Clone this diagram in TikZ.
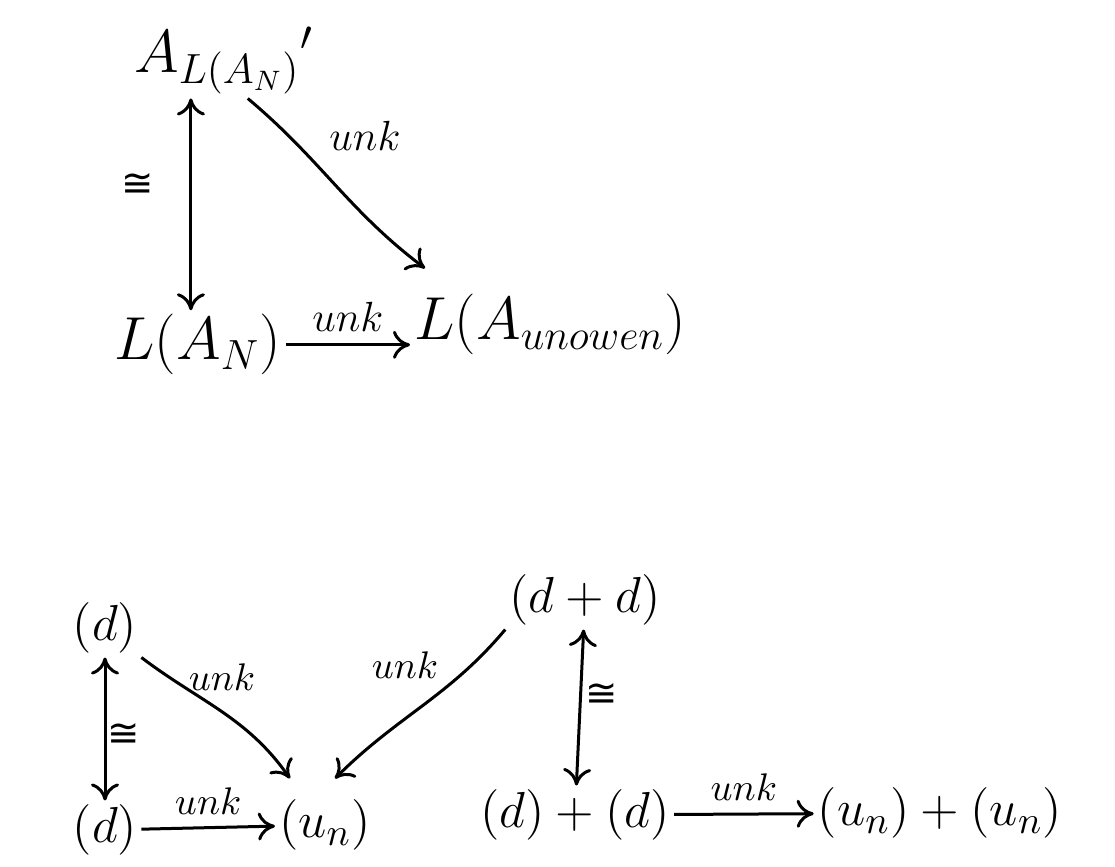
\documentclass[tikz,border=0pt]{standalone}
\usepackage{fontspec}
\newfontfamily\symfont{DejaVu Sans}
\usetikzlibrary{calc, arrows.meta}

\begin{document}
\begin{tikzpicture}[
    >={To[length=1.7mm, width=2.8mm]},
    big/.style={font=\fontsize{17}{20}\selectfont, inner sep=1pt},
    mid/.style={font=\fontsize{15}{18}\selectfont, inner sep=1pt},
    lbl/.style={font=\fontsize{13}{15}\selectfont},
    slbl/.style={font=\fontsize{11}{13}\selectfont},
    iso/.style={font=\symfont\fontsize{11}{13}\selectfont},
    arr/.style={line width=0.3mm, ->},
]
    \useasboundingbox (0,0) rectangle (11.15,8.66);

    % upper triangle
    \node[big, anchor=base west] (AL) at (1.30, 7.93)  {$A_{L(A_N)}{}'$};
    \node[big, anchor=base west] (LA) at (1.10, 5.06)  {$L(A_N)$};
    \node[big, anchor=base west] (LU) at (4.10, 5.26)  {$L(A_{unowen})$};

    \draw[arr, <->] ([xshift=-0.33cm]AL.south) -- ([xshift=-0.33cm]AL.south |- LA.north);
    \node[iso] (iso1) at (1.38, 6.81) {≅};
    \draw[arr] ([xshift=-0.7cm]AL.south east) to[out=-40, in=143] ([xshift=0.15cm, yshift=0.22cm]LU.north west);
    \node[lbl] (f1) at (3.65, 7.30) {$unk$};
    \draw[arr] (LA.east) -- (LA.east -| LU.west) node[midway, above, lbl] (f2) {$unk$};

    % lower diagrams
    \node[mid] (d1) at (1.05, 2.38)  {$(d)$};
    \node[mid] (d2) at (1.05, 0.36)  {$(d)$};
    \node[mid] (un) at (3.25, 0.41)  {$(u_n)$};
    \node[mid] (dd) at (5.85, 2.66)  {$(d+d)$};
    \node[mid] (dpd) at (5.75, 0.51) {$(d)+(d)$};
    \node[mid] (upu) at (9.40, 0.53) {$(u_n)+(u_n)$};

    \draw[arr, <->] (d1) -- (d2);
    \node[iso] (iso2) at (1.24, 1.31) {≅};
    \draw[arr] (d1.south east) to[out=-37, in=125] ([xshift=0.15cm, yshift=0.17cm]un.north west);
    \node[slbl] (f3) at (2.22, 1.89) {$unk$};
    \draw[arr] (dd.south west) to[out=-130, in=45] ([xshift=-0.4cm, yshift=0.17cm]un.north east);
    \node[slbl] (f4) at (4.05, 2.01) {$unk$};
    \draw[arr] (d2) -- (un) node[midway, above, slbl] (f5) {$unk$};

    \draw[arr, <->] (dd) -- (dpd);
    \node[iso] (iso3) at (6.02, 1.71) {≅};
    \draw[arr] (dpd) -- (upu) node[midway, above, slbl] (f6) {$unk$};
\end{tikzpicture}
\end{document}
